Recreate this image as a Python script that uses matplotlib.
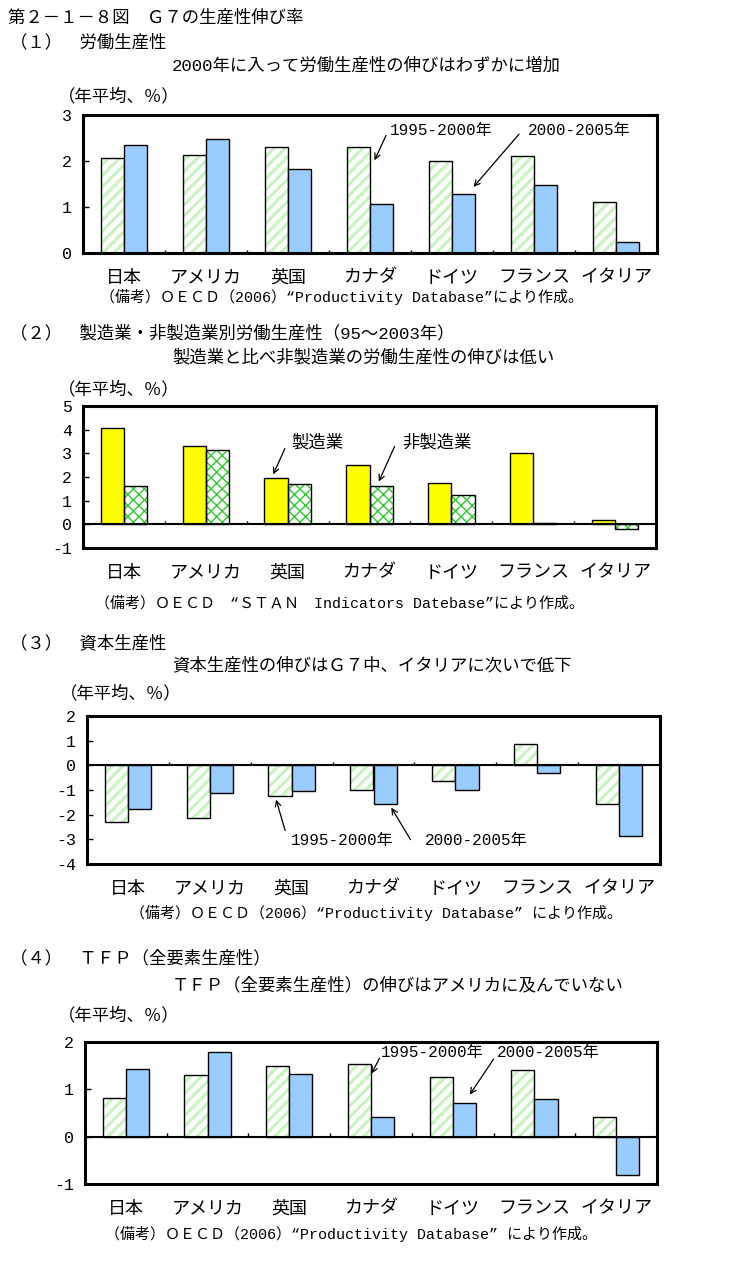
import numpy as np
import matplotlib
matplotlib.use('Agg')
import matplotlib.pyplot as plt

plt.rcParams['font.family'] = ['Liberation Mono', 'Noto Sans CJK JP', 'DejaVu Sans']
plt.rcParams['axes.unicode_minus'] = False

W, H = 734, 1266

cats = ['日本', 'アメリカ', '英国', 'カナダ', 'ドイツ', 'フランス', 'イタリア']

# (1) labour productivity
labor_95_00 = [2.06, 2.14, 2.30, 2.30, 1.99, 2.10, 1.10]
labor_00_05 = [2.34, 2.47, 1.82, 1.06, 1.28, 1.47, 0.25]
# (2) manufacturing / non-manufacturing (95-2003)
mfg = [4.05, 3.33, 1.94, 2.49, 1.73, 3.03, 0.17]
nonmfg = [1.60, 3.16, 1.69, 1.60, 1.26, 0.04, -0.21]
# (3) capital productivity
capital_95_00 = [-2.30, -2.14, -1.25, -1.01, -0.63, 0.85, -1.58]
capital_00_05 = [-1.78, -1.13, -1.05, -1.58, -1.01, -0.32, -2.87]
# (4) TFP
tfp_95_00 = [0.82, 1.30, 1.49, 1.54, 1.26, 1.41, 0.42]
tfp_00_05 = [1.43, 1.79, 1.32, 0.42, 0.71, 0.80, -0.81]

STRIPE = dict(face='white', hatch='///', hcolor='#c6f3be', hlw=2.2)
BLUE = dict(face='#99ccff', hatch=None)
YELLOW = dict(face='#ffff00', hatch=None)
CROSS = dict(face='white', hatch='xxx', hcolor='#2ecc2e', hlw=1.0)

fig = plt.figure(figsize=(W / 100, H / 100), dpi=100)


def ftext(x, y, s, size=12.5, ha='left'):
    fig.text(x / W, 1 - y / H, s, fontsize=size, ha=ha, va='center')


def make_axes(l, t, r, b):
    return fig.add_axes([l / W, 1 - b / H, (r - l) / W, (b - t) / H])


def bars(ax, xs, vals, st, w):
    if st['hatch']:
        with plt.rc_context({'hatch.linewidth': st['hlw']}):
            ax.bar(xs, vals, w, color=st['face'], edgecolor=st['hcolor'],
                   hatch=st['hatch'], linewidth=0, zorder=2)
        ax.bar(xs, vals, w, fill=False, edgecolor='black', linewidth=1.0, zorder=3)
    else:
        ax.bar(xs, vals, w, color=st['face'], edgecolor='black', linewidth=1.0, zorder=3)


def panel(ax, s1, s2, st1, st2, ymin, ymax):
    x = np.arange(len(cats))
    w = 0.284
    bars(ax, x - w / 2, s1, st1, w)
    bars(ax, x + w / 2, s2, st2, w)
    ax.set_xlim(-0.5, len(cats) - 0.5)
    ax.set_ylim(ymin, ymax)
    ax.set_yticks(range(ymin, ymax + 1))
    ax.set_xticks(x)
    ax.set_xticklabels(cats, fontsize=13)
    ax.tick_params(axis='x', length=0, pad=12)
    ax.tick_params(axis='y', direction='in', length=4, width=1, labelsize=12, pad=8)
    ax.axhline(0, color='black', linewidth=1.5 if ymin < 0 else 2.2, zorder=4)
    bnd = np.arange(0.5, len(cats) - 0.5)
    ax.vlines(bnd, 0, 0.025 * (ymax - ymin), color='black', linewidth=1, zorder=4)
    for sp in ax.spines.values():
        sp.set_linewidth(2.2)


def note(ax, s, tx, ty, ax_, ay_, hx, hy, size=11.5):
    ax.annotate('', xy=(hx, hy), xytext=(ax_, ay_),
                arrowprops=dict(arrowstyle='->', color='black', lw=0.9), zorder=5)
    ax.text(tx, ty, s, fontsize=size, ha='left', va='center', zorder=5)


ftext(8, 17, '第２－１－８図　Ｇ７の生産性伸び率')

# ---- (1)
ftext(10, 42, '（１）　労働生産性')
ftext(172, 65, '2000年に入って労働生産性の伸びはわずかに増加')
ftext(58, 96, '（年平均、％）')
ax1 = make_axes(83, 115, 657, 253)
panel(ax1, labor_95_00, labor_00_05, STRIPE, BLUE, 0, 3)
note(ax1, '1995-2000年', 3.24, 2.67, 3.21, 2.61, 3.04, 1.96)
note(ax1, '2000-2005年', 4.93, 2.67, 4.84, 2.63, 4.24, 1.39)
ftext(100, 297, '（備考）ＯＥＣＤ（2006）“Productivity Database”により作成。', size=10.8)

# ---- (2)
ftext(10, 333, '（２）　製造業・非製造業別労働生産性（95～2003年）')
ftext(172, 357, '製造業と比べ非製造業の労働生産性の伸びは低い')
ftext(58, 389, '（年平均、％）')
ax2 = make_axes(83, 406, 656, 548)
panel(ax2, mfg, nonmfg, YELLOW, CROSS, -1, 5)
note(ax2, '製造業', 2.04, 3.48, 1.98, 3.31, 1.81, 2.0, size=12.5)
note(ax2, '非製造業', 3.40, 3.48, 3.32, 3.40, 3.10, 1.70, size=12.5)
ftext(95, 603, '（備考）ＯＥＣＤ　“ＳＴＡＮ　Indicators Datebase”により作成。', size=10.8)

# ---- (3)
ftext(10, 643, '（３）　資本生産性')
ftext(172, 665, '資本生産性の伸びはＧ７中、イタリアに次いで低下')
ftext(60, 693, '（年平均、％）')
ax3 = make_axes(87, 716, 660, 864)
panel(ax3, capital_95_00, capital_00_05, STRIPE, BLUE, -4, 2)
note(ax3, '1995-2000年', 1.99, -3.03, 1.93, -2.75, 1.80, -1.28)
note(ax3, '2000-2005年', 3.63, -3.03, 3.47, -3.11, 3.20, -1.62)
ftext(130, 913, '（備考）ＯＥＣＤ（2006）“Productivity Database” により作成。', size=10.8)

# ---- (4)
ftext(10, 958, '（４）　ＴＦＰ（全要素生産性）')
ftext(172, 985, 'ＴＦＰ（全要素生産性）の伸びはアメリカに及んでいない')
ftext(58, 1015, '（年平均、％）')
ax4 = make_axes(85, 1042, 657, 1184)
panel(ax4, tfp_95_00, tfp_00_05, STRIPE, BLUE, -1, 2)
note(ax4, '1995-2000年', 3.12, 1.77, 3.12, 1.71, 2.99, 1.28)
note(ax4, '2000-2005年', 4.54, 1.77, 4.52, 1.69, 4.19, 0.84)
ftext(105, 1234, '（備考）ＯＥＣＤ（2006）“Productivity Database” により作成。', size=10.8)

fig.savefig('out.png', dpi=100)
